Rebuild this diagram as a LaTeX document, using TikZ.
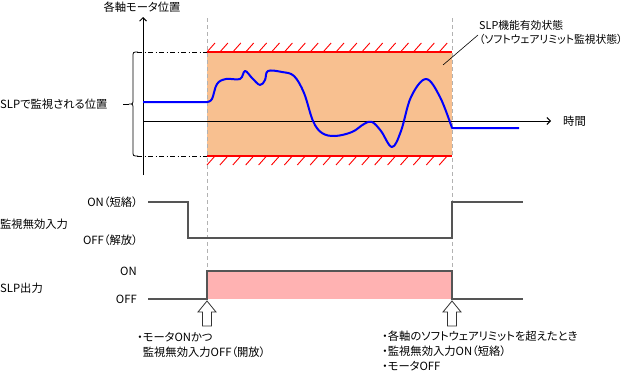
\documentclass[tikz,border=0pt]{standalone}
\usepackage{fontspec}
\setmainfont[RawFeature=+palt]{Noto Sans CJK JP}
\usepackage{xcolor}
\usetikzlibrary{positioning,arrows.meta,calc}
\definecolor{slporange}{RGB}{248,192,144}
\definecolor{slppink}{RGB}{255,178,178}
\definecolor{slpblue}{RGB}{0,0,255}
\definecolor{sigline}{RGB}{85,85,85}
\tikzset{
  lbl/.style={font=\fontsize{11.3}{15}\selectfont, inner sep=0pt},
  axis/.style={-{Straight Barb[length=3.5pt,width=7pt]}, line width=0.9pt, black},
  limit/.style={line width=1.3pt, red},
  hatch/.style={line width=0.9pt, red},
  dashdot/.style={line width=0.8pt, dash pattern=on 5pt off 2.5pt on 1pt off 2.5pt},
  guide/.style={line width=0.8pt, gray!60, dash pattern=on 4pt off 3pt},
  wave/.style={line width=2pt, slpblue, line join=round},
  sig/.style={line width=1.1pt, sigline},
  hollow/.style={line width=0.8pt, draw=black!80, fill=white}
}

\begin{document}
\begin{tikzpicture}[x=1pt,y=-1pt]
    \useasboundingbox (0,0) rectangle (635,375);
    \fill[slporange] (207,52) rectangle (452,156);
    \draw[limit] (207,52) -- (452,52);
    \draw[limit] (207,156) -- (452,156);
    \foreach \i in {0,...,18} {
      \draw[hatch] ({207+12.9*\i},52) -- ++(8,-9);
      \draw[hatch] ({207+12.9*\i},165) -- ++(8,-9);
    }
    \draw[dashdot] (137,52) -- (207,52);
    \draw[dashdot] (137,156) -- (207,156);
    \draw[guide] (207,18) -- (207,298);
    \draw[guide] (452,18) -- (452,298);
    \draw[line width=0.8pt] (138,52) .. controls (133,52) .. (133,57) -- (133,99)
      .. controls (133,104) .. (129,104) .. controls (133,104) .. (133,109)
      -- (133,151) .. controls (133,156) .. (138,156);
    \draw[line width=0.8pt] (123,104) -- (129,104);
    \node[lbl] (ylbl) at (142,7) {各軸モータ位置};
    \node[lbl, anchor=west] (tlbl) at (563,121) {時間};
    \coordinate (org) at (143,121);
    \draw[axis] (143,175) -- (143,17);
    \draw[axis] (org) -- (551,121);
    \draw[wave] (143,102) -- (207,102) -- plot[smooth, tension=0.6] coordinates {
      (207,102) (212,99) (217,84) (226,79) (240,79) (245,71) (252,78) (260,85)
      (265,80) (268,71) (282,72) (294,76) (304,93) (313,121) (322,133) (335,136)
      (352,132) (364,124) (372,122) (381,131) (392,147) (401,131) (411,97)
      (426,79) (440,97) (452,128)} -- (519,128);
    \coordinate (notept) at (443,65);
    \node[lbl, font=\fontsize{10.8}{14}\selectfont, anchor=west, align=left] (note) at (479,32)
      {SLP機能有効状態\\（ソフトウェアリミット監視状態）};
    \draw[line width=0.6pt] (notept) -- (478,35);
    \node[lbl, anchor=west] (poslbl) at (0,104) {SLPで監視される位置};
    \node[lbl, anchor=west] (dislbl) at (0,224) {監視無効入力};
    \node[lbl, anchor=west] (outlbl) at (0,288) {SLP出力};
    \node[lbl, anchor=east] (dison) at (138,202) {ON（短絡）};
    \node[lbl, anchor=east] (disoff) at (138,240) {OFF（解放）};
    \node[lbl, anchor=east] (outon) at (137,271) {ON};
    \node[lbl, anchor=east] (outoff) at (137,299) {OFF};
    \draw[sig] (148,202) -- (188,202) -- (188,238) -- (452,238) -- (452,202) -- (523,202);
    \fill[slppink] (207,271) rectangle (452,299);
    \draw[sig] (148,299) -- (207,299) -- (207,271) -- (452,271) -- (452,299) -- (523,299);
    \foreach \x in {207,452}
      \draw[hollow] (\x,301) -- ++(9,11) -- ++(-4.5,0) -- ++(0,14) -- ++(-9,0)
        -- ++(0,-14) -- ++(-4.5,0) -- cycle;
    \node[lbl, anchor=north west, align=left] (onev) at (137,332)
      {・モータONかつ\\\phantom{・}監視無効入力OFF（開放）};
    \node[lbl, anchor=north west, align=left] (offev) at (382,331)
      {・各軸のソフトウェアリミットを超えたとき\\・監視無効入力ON（短絡）\\・モータOFF};
  \end{tikzpicture}
\end{document}
